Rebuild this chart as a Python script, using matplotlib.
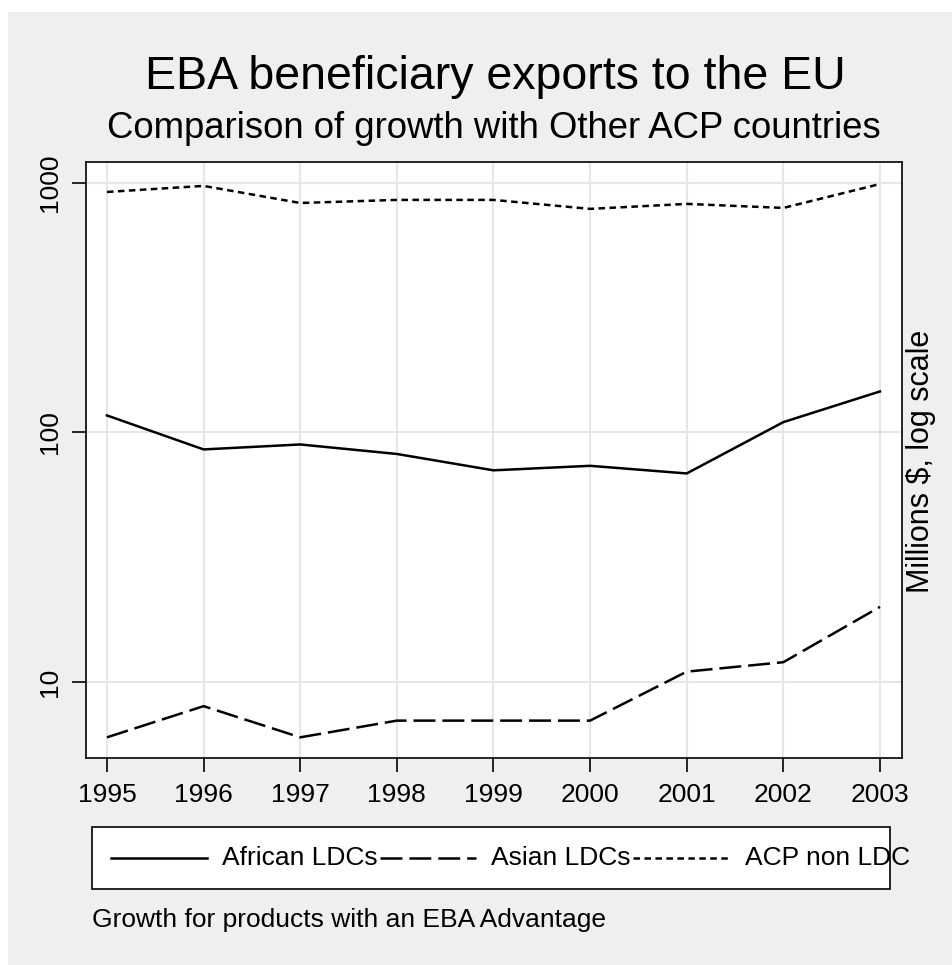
import matplotlib
matplotlib.use("Agg")
import matplotlib.pyplot as plt
from matplotlib.patches import Rectangle
from matplotlib.lines import Line2D

# Exports to the EU, millions of dollars
years = [1995, 1996, 1997, 1998, 1999, 2000, 2001, 2002, 2003]
african_ldcs = [117, 85.5, 89.5, 82, 70.5, 73.5, 68.5, 110, 146]
asian_ldcs = [6, 8, 6, 7, 7, 7, 11, 12, 20]
acp_non_ldc = [920, 973, 831, 855, 855, 787, 824, 794, 990]
series_labels = ["African LDCs", "Asian LDCs", "ACP non LDC"]
y_ticks = [10, 100, 1000]
y_tick_labels = ["10", "100", "1000"]

title = "EBA beneficiary exports to the EU"
subtitle = "Comparison of growth with Other ACP countries"
y_title = "Millions $, log scale"
note = "Growth for products with an EBA Advantage"

plt.rcParams["font.family"] = ["Liberation Sans", "DejaVu Sans"]
plt.rcParams["lines.scale_dashes"] = False

W, H = 953, 965
fig = plt.figure(figsize=(W / 100, H / 100), dpi=100, facecolor="white")


def fx(px):
    return px / W


def fy(py):
    return 1 - py / H


# graph region background
fig.patches.append(Rectangle((fx(8), 0), 1 - fx(8), fy(12), transform=fig.transFigure,
                             facecolor="#efefef", edgecolor="none", zorder=-10))

ax = fig.add_axes([fx(86), fy(758), fx(902) - fx(86), (758 - 162) / H])
ax.set_facecolor("white")

LW = 1.8
styles = [
    dict(linestyle="-"),
    dict(linestyle=(0, (15.8, 5.0))),
    dict(linestyle=(0, (4.7, 3.2))),
]
series = [african_ldcs, asian_ldcs, acp_non_ldc]
for vals, st in zip(series, styles):
    ax.plot(years, vals, color="black", lw=LW, zorder=3, **st)

ax.set_yscale("log")
ax.set_xlim(1994.783, 2003.228)
ax.set_ylim(4.958, 1213)
ax.set_xticks(years)
ax.set_xticklabels([str(y) for y in years])
ax.set_yticks(y_ticks)
ax.set_yticklabels(y_tick_labels)
ax.yaxis.set_minor_locator(matplotlib.ticker.NullLocator())
ax.grid(True, color="#e6e6e6", lw=1.5, zorder=0)
ax.set_axisbelow(True)

for sp in ax.spines.values():
    sp.set_linewidth(1.2)
    sp.set_color("black")

ax.tick_params(axis="both", length=10, width=1.2, labelsize=19, color="black")
ax.tick_params(axis="x", pad=8)
ax.tick_params(axis="y", pad=7, labelrotation=90)
for lbl in ax.get_yticklabels():
    lbl.set_va("center")

# titles
fig.text(fx(495), fy(89), title, ha="center", va="baseline", fontsize=33.5)
fig.text(fx(494), fy(138), subtitle, ha="center", va="baseline", fontsize=26.3)
fig.text(fx(921), fy(461), y_title, ha="center", va="center", rotation=90, fontsize=22)

# legend box
fig.patches.append(Rectangle((fx(92), fy(889)), fx(890) - fx(92), (889 - 827) / H,
                             transform=fig.transFigure, facecolor="white",
                             edgecolor="black", lw=1.2, zorder=1))
handle_x = [(111, 207), (380, 476), (633, 730)]
text_x = [222, 491, 745]
for (x0, x1), tx, lab, st in zip(handle_x, text_x, series_labels, styles):
    fig.lines.append(Line2D([fx(x0), fx(x1)], [fy(858), fy(858)], transform=fig.transFigure,
                            color="black", lw=LW, zorder=2, **st))
    fig.text(fx(tx), fy(858), lab, ha="left", va="center", fontsize=19, zorder=3)

fig.text(fx(92), fy(927), note, ha="left", va="baseline", fontsize=19)

fig.savefig("out.png", dpi=100, facecolor="white")
